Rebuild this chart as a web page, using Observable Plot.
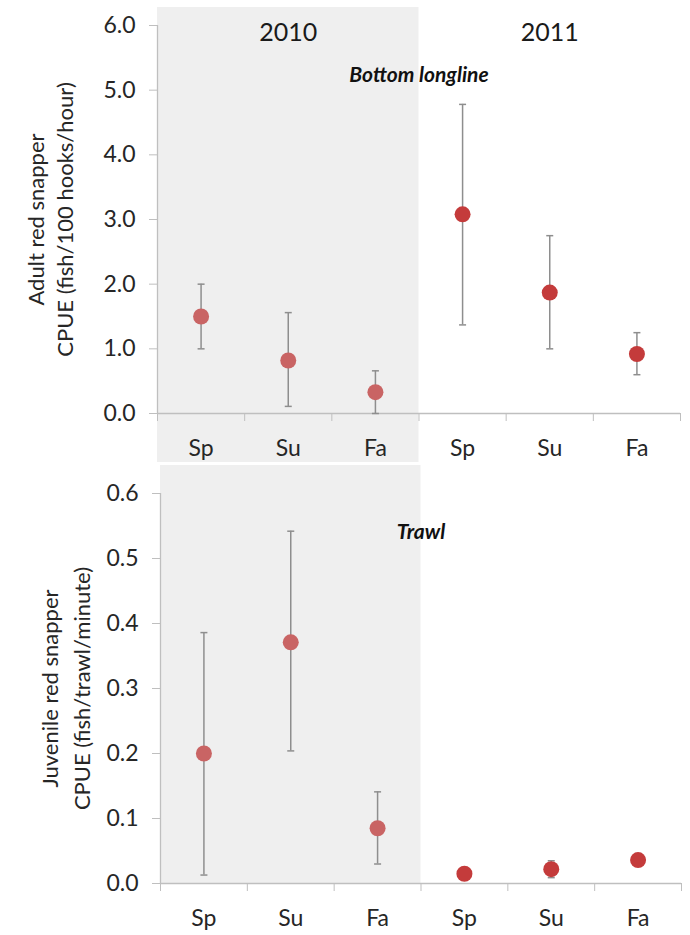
<!DOCTYPE html>
<html>
<head>
<meta charset="utf-8">
<script src="https://cdn.jsdelivr.net/npm/d3@7"></script>
<script src="https://cdn.jsdelivr.net/npm/@observablehq/plot@0.6"></script>
<style>
  html, body { margin: 0; padding: 0; background: #fff; }
  #chart { position: relative; width: 690px; height: 935px; font-family: Lato, "Open Sans", sans-serif; }
  #chart svg { display: block; }
</style>
</head>
<body>
<div id="chart"></div>
<script>
// Survey years and seasons
const years = ["2010", "2011"];
const seasons = ["Sp", "Su", "Fa"];

// Adult red snapper, bottom longline CPUE (fish/100 hooks/hour): mean and error range
const adultMean = [1.50, 0.82, 0.33, 3.08, 1.87, 0.92];
const adultLow  = [1.00, 0.11, 0.00, 1.37, 1.00, 0.60];
const adultHigh = [2.00, 1.56, 0.66, 4.78, 2.75, 1.25];
const adultTicks = [0, 1, 2, 3, 4, 5, 6];

// Juvenile red snapper, trawl CPUE (fish/trawl/minute): mean and error range
const juvMean = [0.200, 0.371, 0.085, 0.015, 0.022, 0.036];
const juvLow  = [0.013, 0.204, 0.030, 0.010, 0.009, 0.031];
const juvHigh = [0.386, 0.542, 0.141, 0.020, 0.035, 0.041];
const juvTicks = [0, 0.1, 0.2, 0.3, 0.4, 0.5, 0.6];

const yearFill = {"2010": "#c96464", "2011": "#c43b3b"};
const shade = "#efefef";
const axisGray = "#bfbfbf";
const barGray = "#8e8e8e";
const ink = "#262626";

// one row per year-season, positioned by its index on a linear x
function rowsFor(mean, low, high) {
  const rows = [];
  years.forEach((yr, yi) => seasons.forEach((s, si) => {
    const i = yi * seasons.length + si;
    rows.push({year: yr, season: s, pos: i + 0.5, mean: mean[i], low: low[i], high: high[i]});
  }));
  return rows;
}
const nCat = years.length * seasons.length;
const bounds = d3.range(nCat + 1);
const centers = d3.range(nCat).map(i => i + 0.5);
const seasonAt = i => seasons[Math.floor(i) % seasons.length];
const yearSpans = years.map((yr, yi) => ({year: yr, x1: yi * seasons.length, x2: (yi + 1) * seasons.length, mid: (yi + 0.5) * seasons.length}));

// horizontal cap for error bars
const capSymbol = {draw(ctx, size) { const r = Math.sqrt(size / Math.PI); ctx.moveTo(-r, 0); ctx.lineTo(r, 0); }};

function panel({rows, ticks, yMax, height, marginTop, marginBottom, marginLeft, marginRight,
                shadeTop, shadeBottom, ylabel, labelDx, labelLH, gear, gearDy, showYears}) {
  const marks = [
    Plot.rect(yearSpans.filter(d => d.year === "2010"), {x1: "x1", x2: "x2", fill: shade, insetTop: -shadeTop, insetBottom: -shadeBottom}),
    Plot.ruleX([0], {stroke: axisGray, strokeWidth: 1.3}),
    Plot.ruleY([0], {stroke: axisGray, strokeWidth: 1.3}),
    Plot.axisY({ticks, tickFormat: d3.format(".1f"), tickSize: 8, tickPadding: 14, fontSize: 23, stroke: axisGray, label: null}),
    Plot.axisX({ticks: bounds, tickFormat: () => "", tickSize: 8, stroke: axisGray, label: null}),
    Plot.axisX({ticks: centers, tickFormat: seasonAt, tickSize: 0, tickPadding: 26, fontSize: 23, label: null}),
    Plot.ruleX(rows, {x: "pos", y1: "low", y2: "high", stroke: barGray, strokeWidth: 1.5}),
    Plot.dot(rows, {x: "pos", y: "high", symbol: capSymbol, r: 3.5, stroke: barGray, strokeWidth: 1.5, fill: "none"}),
    Plot.dot(rows, {x: "pos", y: "low", symbol: capSymbol, r: 3.5, stroke: barGray, strokeWidth: 1.5, fill: "none"}),
    Plot.dot(rows, {x: "pos", y: "mean", r: 8, fill: d => yearFill[d.year], stroke: "none"}),
    Plot.text([ylabel], {frameAnchor: "left", rotate: -90, dx: labelDx, textAnchor: "middle", lineAnchor: "middle", lineHeight: labelLH, fontSize: 22, fill: ink}),
    Plot.text([gear], {x: yearSpans[0].x2, frameAnchor: "top", dy: gearDy, lineAnchor: "middle", fontSize: 21, fontWeight: "bold", fontStyle: "italic", fill: "#111"})
  ];
  if (showYears) {
    marks.push(Plot.text(yearSpans, {x: "mid", text: "year", frameAnchor: "top", dy: -2, lineAnchor: "top", fontSize: 25, fill: "#1a1a1a"}));
  }
  return Plot.plot({
    width: 690, height, marginTop, marginBottom, marginLeft, marginRight,
    x: {type: "linear", domain: [0, nCat], axis: null},
    y: {domain: [0, yMax], axis: null},
    color: {type: "identity"},
    style: {fontFamily: "Lato, 'Open Sans', sans-serif", color: ink, background: "transparent", overflow: "visible"},
    marks
  });
}

const chart = document.getElementById("chart");

chart.append(panel({
  rows: rowsFor(adultMean, adultLow, adultHigh), ticks: adultTicks, yMax: 6,
  height: 464, marginTop: 25, marginBottom: 51, marginLeft: 157, marginRight: 10,
  shadeTop: 18, shadeBottom: 49,
  ylabel: "Adult red snapper\nCPUE (fish/100 hooks/hour)", labelDx: -108, labelLH: 1.3,
  gear: "Bottom longline", gearDy: 50, showYears: true
}));

chart.append(panel({
  rows: rowsFor(juvMean, juvLow, juvHigh), ticks: juvTicks, yMax: 0.6,
  height: 471, marginTop: 29, marginBottom: 52, marginLeft: 160, marginRight: 9,
  shadeTop: 28, shadeBottom: 0,
  ylabel: "Juvenile red snapper\nCPUE (fish/trawl/minute)", labelDx: -97, labelLH: 1.45,
  gear: "Trawl", gearDy: 39, showYears: false
}));
</script>
</body>
</html>
